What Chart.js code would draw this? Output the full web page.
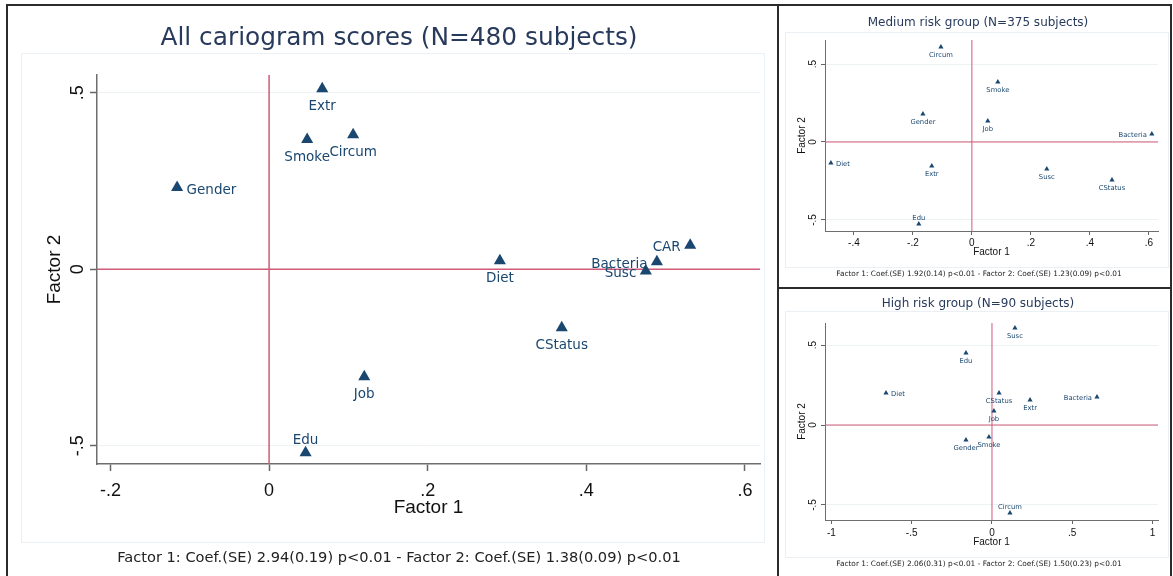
<!DOCTYPE html>
<html><head><meta charset="utf-8">
<script src="https://cdn.jsdelivr.net/npm/chart.js@4.4.1/dist/chart.umd.min.js"></script>
<style>
html,body{margin:0;padding:0;background:#fff;width:1173px;height:576px;overflow:hidden;position:relative;font-family:"DejaVu Sans",sans-serif}
canvas{position:absolute}
.frame{position:absolute;border:2px solid #2b2b2b;box-sizing:border-box}
.region{position:absolute;border:1px solid #eaf0f4;box-sizing:border-box}
.txt{position:absolute;white-space:nowrap;line-height:1;transform:translate(-50%,-50%)}
</style></head><body>
<div class="frame" style="left:6px;top:4px;width:773px;height:590px"></div>
<div class="frame" style="left:777px;top:4px;width:395px;height:285px"></div>
<div class="frame" style="left:777px;top:287px;width:395px;height:300px"></div>
<div class="region" style="left:21px;top:53px;width:744px;height:490px"></div>
<div class="region" style="left:785px;top:32px;width:384px;height:236px"></div>
<div class="region" style="left:785px;top:311px;width:384px;height:247px"></div>

<canvas id="cMain" width="769" height="570" style="left:8px;top:6px"></canvas>
<canvas id="cMed" width="391" height="281" style="left:780px;top:6px"></canvas>
<canvas id="cHigh" width="391" height="286" style="left:780px;top:290px"></canvas>

<div class="txt" id="tMain" style="left:399px;top:37px;font-size:24.8px;color:#283a5c"></div>
<div class="txt" id="nMain" style="left:399px;top:557px;font-size:14.6px;color:#222"></div>
<div class="txt" id="tMed" style="left:978px;top:22px;font-size:12px;color:#283a5c"></div>
<div class="txt" id="nMed" style="left:979px;top:274px;font-size:7.4px;color:#222"></div>
<div class="txt" id="tHigh" style="left:978px;top:303px;font-size:12px;color:#283a5c"></div>
<div class="txt" id="nHigh" style="left:979px;top:564px;font-size:7.4px;color:#222"></div>

<script>
// ---------------- DATA ----------------
const mainTitle = 'All cariogram scores (N=480 subjects)';
const mainNote = 'Factor 1: Coef.(SE) 2.94(0.19) p<0.01 - Factor 2: Coef.(SE) 1.38(0.09) p<0.01';
const mainNames = ['Extr','Smoke','Circum','Gender','Diet','CAR','Bacteria','Susc','CStatus','Job','Edu'];
const mainF1 = [0.067, 0.048, 0.106, -0.116, 0.291, 0.531, 0.489, 0.475, 0.369, 0.120, 0.046];
const mainF2 = [0.511, 0.367, 0.381, 0.231, 0.024, 0.068, 0.021, -0.005, -0.166, -0.305, -0.520];
const mainLabelPos = ['below','below','below','right','below','left','left','left','below','below','above'];
const mainXTicks = [-0.2, 0, 0.2, 0.4, 0.6];
const mainXTickLabels = ['-.2','0','.2','.4','.6'];
const mainYTicks = [-0.5, 0, 0.5];
const mainYTickLabels = ['-.5','0','.5'];
const mainXRange = [-0.217, 0.619];
const mainYRange = [-0.552, 0.55];

const medTitle = 'Medium risk group (N=375 subjects)';
const medNote = 'Factor 1: Coef.(SE) 1.92(0.14) p<0.01 - Factor 2: Coef.(SE) 1.23(0.09) p<0.01';
const medNames = ['Circum','Smoke','Gender','Job','Bacteria','Diet','Extr','Susc','CStatus','Edu'];
const medF1 = [-0.105, 0.088, -0.166, 0.054, 0.610, -0.478, -0.136, 0.254, 0.475, -0.180];
const medF2 = [0.609, 0.385, 0.180, 0.135, 0.051, -0.135, -0.154, -0.173, -0.244, -0.526];
const medLabelPos = ['below','below','below','below','left','right','below','below','below','above'];
const medXTicks = [-0.4, -0.2, 0, 0.2, 0.4, 0.6];
const medXTickLabels = ['-.4','-.2','0','.2','.4','.6'];
const medYTicks = [-0.5, 0, 0.5];
const medYTickLabels = ['-.5','0','.5'];
const medXRange = [-0.498, 0.631];
const medYRange = [-0.571, 0.654];

const highTitle = 'High risk group (N=90 subjects)';
const highNote = 'Factor 1: Coef.(SE) 2.06(0.31) p<0.01 - Factor 2: Coef.(SE) 1.50(0.23) p<0.01';
const highNames = ['Susc','Edu','Diet','CStatus','Extr','Bacteria','Job','Gender','Smoke','Circum'];
const highF1 = [0.143, -0.162, -0.660, 0.044, 0.237, 0.654, 0.012, -0.162, -0.019, 0.112];
const highF2 = [0.606, 0.450, 0.200, 0.200, 0.156, 0.175, 0.087, -0.094, -0.075, -0.550];
const highLabelPos = ['below','below','right','below','below','left','below','below','below','above'];
const highXTicks = [-1, -0.5, 0, 0.5, 1];
const highXTickLabels = ['-1','-.5','0','.5','1'];
const highYTicks = [-0.5, 0, 0.5];
const highYTickLabels = ['-.5','0','.5'];
const highXRange = [-1.04, 1.034];
const highYRange = [-0.594, 0.638];

const xTitle = 'Factor 1';
const yTitle = 'Factor 2';

// ---------------- TEXT ----------------
document.getElementById('tMain').textContent = mainTitle;
document.getElementById('nMain').textContent = mainNote;
document.getElementById('tMed').textContent = medTitle;
document.getElementById('nMed').textContent = medNote;
document.getElementById('tHigh').textContent = highTitle;
document.getElementById('nHigh').textContent = highNote;

// ---------------- PLUGINS ----------------
const refLines = {
  id: 'refLines',
  beforeDatasetsDraw(chart, args, opts) {
    const {ctx, chartArea: a, scales: {x, y}} = chart;
    ctx.save();
    ctx.strokeStyle = opts.color;
    ctx.lineWidth = opts.width;
    const px = x.getPixelForValue(0), py = y.getPixelForValue(0);
    ctx.beginPath();
    ctx.moveTo(px, a.top); ctx.lineTo(px, a.bottom);
    ctx.moveTo(a.left, py); ctx.lineTo(a.right, py);
    ctx.stroke();
    ctx.restore();
  }
};
const markerLabels = {
  id: 'markerLabels',
  afterDatasetsDraw(chart, args, o) {
    const meta = chart.getDatasetMeta(0);
    const ctx = chart.ctx;
    ctx.save();
    ctx.font = o.font;
    ctx.fillStyle = o.color;
    ctx.textBaseline = 'middle';
    meta.data.forEach((pt, i) => {
      const pos = o.positions[i];
      let x = pt.x, y = pt.y;
      if (pos === 'below') { ctx.textAlign = 'center'; y += o.below; }
      else if (pos === 'above') { ctx.textAlign = 'center'; y -= o.above; }
      else if (pos === 'right') { ctx.textAlign = 'left'; x += o.side; y += o.sideDy; }
      else { ctx.textAlign = 'right'; x -= o.side; y += o.sideDy; }
      ctx.fillText(o.names[i], x, y);
    });
    ctx.restore();
  }
};

// ---------------- CHART BUILDER ----------------
function makeChart(id, d, g) {
  const canvas = document.getElementById(id);
  const W = canvas.width, H = canvas.height;
  const points = d.f1.map((v, i) => ({x: v, y: d.f2[i]}));
  return new Chart(canvas, {
    type: 'scatter',
    data: { datasets: [{
      data: points,
      pointStyle: 'triangle',
      pointRadius: g.r,
      pointHoverRadius: g.r,
      backgroundColor: '#1a476f',
      borderColor: '#1a476f',
      borderWidth: 0
    }]},
    plugins: [refLines, markerLabels],
    options: {
      responsive: false,
      animation: false,
      events: [],
      layout: { padding: { left: 0, bottom: 0, top: g.top, right: W - g.right } },
      plugins: {
        legend: { display: false },
        tooltip: { enabled: false },
        title: { display: false },
        refLines: { color: '#d05a78', width: g.refW },
        markerLabels: {
          names: d.names, positions: d.pos,
          font: g.labelFont, color: '#1a476f',
          below: g.below, above: g.above, side: g.side, sideDy: g.sideDy
        }
      },
      scales: {
        x: {
          type: 'linear', position: 'bottom',
          min: d.xRange[0], max: d.xRange[1],
          afterBuildTicks: s => { s.ticks = d.xTicks.map(v => ({value: v})); },
          afterFit: s => { s.height = H - g.bottom; },
          ticks: {
            padding: g.xTickPad, color: '#111',
            font: { family: 'Liberation Sans', size: g.tickSize },
            maxRotation: 0, minRotation: 0,
            callback: v => d.xTickLabels[d.xTicks.indexOf(v)]
          },
          grid: { drawOnChartArea: false, drawTicks: true, tickLength: g.tl, tickColor: '#666', tickWidth: g.axW },
          border: { display: true, color: '#6e6e6e', width: g.axW },
          title: {
            display: true, text: xTitle, color: '#111',
            font: { family: 'Liberation Sans', size: g.titleSize },
            padding: { top: 0, bottom: g.xTitlePad }
          }
        },
        y: {
          type: 'linear', position: 'left',
          min: d.yRange[0], max: d.yRange[1],
          afterBuildTicks: s => { s.ticks = d.yTicks.map(v => ({value: v})); },
          afterFit: s => { s.width = g.left; },
          ticks: {
            padding: g.yTickPad, color: '#111', crossAlign: 'center',
            font: { family: 'Liberation Sans', size: g.tickSize },
            minRotation: 90, maxRotation: 90,
            callback: v => d.yTickLabels[d.yTicks.indexOf(v)]
          },
          grid: { drawOnChartArea: true, color: '#edf2f5', lineWidth: 1, drawTicks: true, tickLength: g.tl, tickColor: '#666', tickWidth: g.axW },
          border: { display: true, color: '#6e6e6e', width: g.axW },
          title: {
            display: true, text: yTitle, color: '#111',
            font: { family: 'Liberation Sans', size: g.titleSize },
            padding: { top: g.yTitlePad, bottom: 0 }
          }
        }
      }
    }
  });
}

makeChart('cMain',
  { names: mainNames, f1: mainF1, f2: mainF2, pos: mainLabelPos,
    xTicks: mainXTicks, xTickLabels: mainXTickLabels, yTicks: mainYTicks, yTickLabels: mainYTickLabels,
    xRange: mainXRange, yRange: mainYRange },
  { left: 89, right: 752, top: 69, bottom: 458, r: 7, refW: 1.5, axW: 1.5, tl: 7,
    tickSize: 18, titleSize: 19, xTickPad: 9, yTickPad: 1.5, xTitlePad: 56.6, yTitlePad: 35.6,
    labelFont: '13.5px "DejaVu Sans"', below: 17.5, above: 12.5, side: 9.5, sideDy: 2.5 });

makeChart('cMed',
  { names: medNames, f1: medF1, f2: medF2, pos: medLabelPos,
    xTicks: medXTicks, xTickLabels: medXTickLabels, yTicks: medYTicks, yTickLabels: medYTickLabels,
    xRange: medXRange, yRange: medYRange },
  { left: 45, right: 378, top: 34, bottom: 225, r: 3, refW: 1, axW: 1, tl: 4,
    tickSize: 10, titleSize: 10, xTickPad: 2, yTickPad: 2, xTitlePad: 29, yTitlePad: 16,
    labelFont: '6.8px "DejaVu Sans"', below: 8, above: 6, side: 5, sideDy: 1 });

makeChart('cHigh',
  { names: highNames, f1: highF1, f2: highF2, pos: highLabelPos,
    xTicks: highXTicks, xTickLabels: highXTickLabels, yTicks: highYTicks, yTickLabels: highYTickLabels,
    xRange: highXRange, yRange: highYRange },
  { left: 45, right: 378, top: 33, bottom: 230, r: 3, refW: 1, axW: 1, tl: 4,
    tickSize: 10, titleSize: 10, xTickPad: 3, yTickPad: 2, xTitlePad: 28, yTitlePad: 16,
    labelFont: '6.8px "DejaVu Sans"', below: 8, above: 6, side: 5, sideDy: 1 });
</script>
</body></html>
